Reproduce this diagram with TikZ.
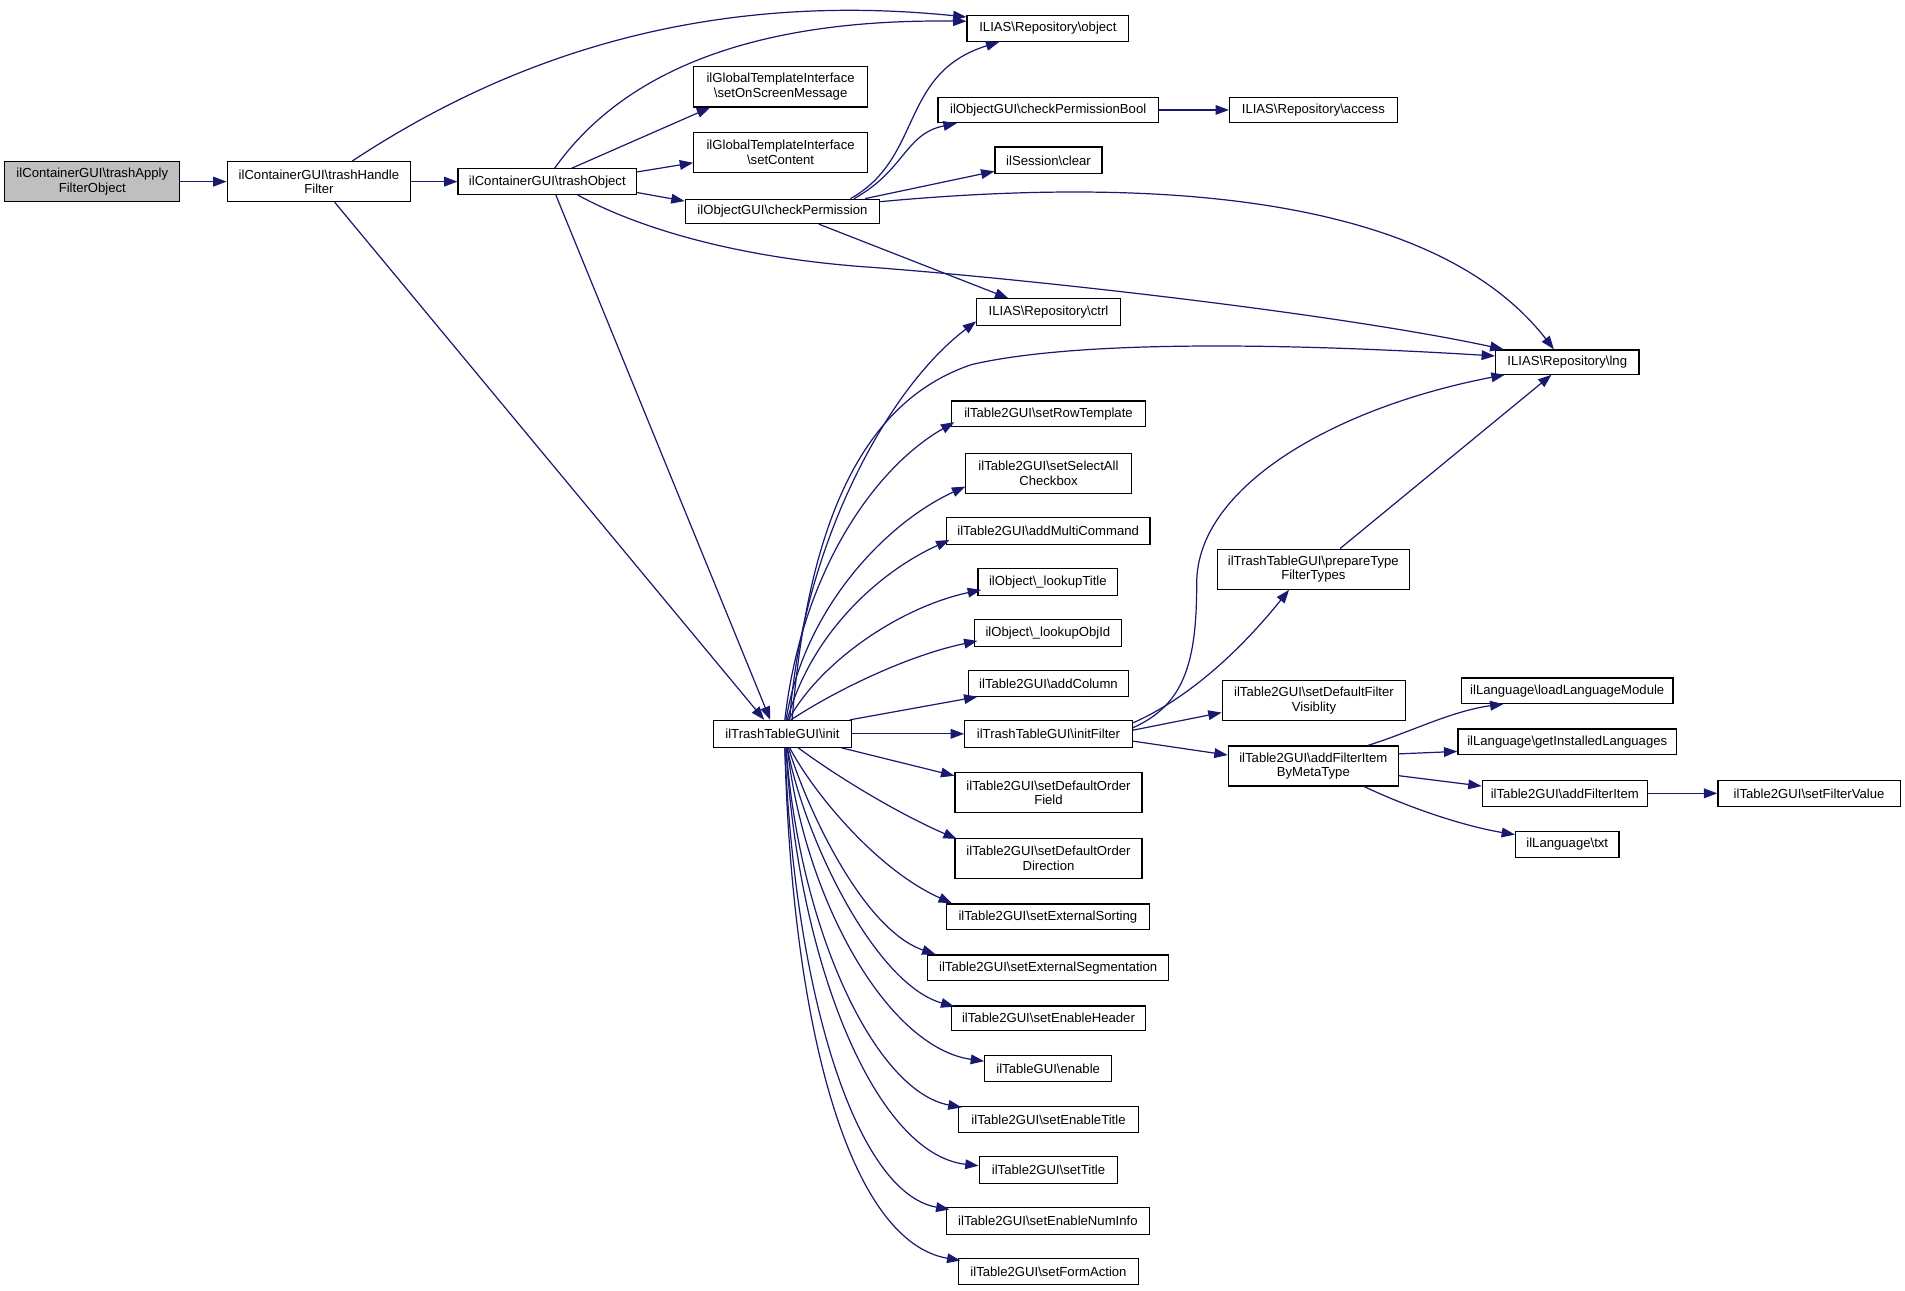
\documentclass[tikz,border=0pt]{standalone}
\usepackage{fontspec}
\setmainfont{Liberation Sans}
\usetikzlibrary{arrows.meta}
\definecolor{edgeblue}{RGB}{25,25,112}
\definecolor{nodegray}{RGB}{191,191,191}
\newcommand\bsl{\textbackslash}
\begin{document}
\begin{tikzpicture}[x=1pt,y=-1pt,
  nb/.style={draw=black, line width=1pt, fill=white, inner sep=0pt, align=center,
    font=\fontsize{10.8}{12}\selectfont},
  e/.style={draw=edgeblue, line width=1pt, -{Triangle[length=11pt,width=8pt]}},
]
\useasboundingbox (0,0) rectangle (1568,1062);

% ---------- nodes ----------
\node[nb, fill=nodegray, minimum width=144, minimum height=33] (A) at (76,149.5) {ilContainerGUI\bsl trashApply\\FilterObject};
\node[nb, minimum width=151, minimum height=33] (B) at (262.5,149.5) {ilContainerGUI\bsl trashHandle\\Filter};
\node[nb, minimum width=147, minimum height=21] (C) at (450.5,149.5) {ilContainerGUI\bsl trashObject};
\node[nb, minimum width=133, minimum height=21] (obj) at (862.5,23.5) {ILIAS\bsl Repository\bsl object};
\node[nb, minimum width=143, minimum height=33] (osm) at (642.5,71.5) {ilGlobalTemplateInterface\\\bsl setOnScreenMessage};
\node[nb, minimum width=143, minimum height=33] (cont) at (642.5,125.5) {ilGlobalTemplateInterface\\\bsl setContent};
\node[nb, minimum width=160, minimum height=20] (cp) at (644,174) {ilObjectGUI\bsl checkPermission};
\node[nb, minimum width=181.5, minimum height=21] (cpb) at (862.75,90.5) {ilObjectGUI\bsl checkPermissionBool};
\node[nb, minimum width=138, minimum height=21] (acc) at (1081,90.5) {ILIAS\bsl Repository\bsl access};
\node[nb, minimum width=88, minimum height=22] (clr) at (863,132) {ilSession\bsl clear};
\node[nb, minimum width=118, minimum height=22] (ctrl) at (863,257) {ILIAS\bsl Repository\bsl ctrl};
\node[nb, minimum width=118, minimum height=20] (lng) at (1290,298) {ILIAS\bsl Repository\bsl lng};
\node[nb, minimum width=160, minimum height=21] (srt) at (863,340.5) {ilTable2GUI\bsl setRowTemplate};
\node[nb, minimum width=136, minimum height=33] (ssa) at (863,389.5) {ilTable2GUI\bsl setSelectAll\\Checkbox};
\node[nb, minimum width=167.5, minimum height=22] (amc) at (862.75,437) {ilTable2GUI\bsl addMultiCommand};
\node[nb, minimum width=115, minimum height=22] (lt) at (862.5,479) {ilObject\bsl\_lookupTitle};
\node[nb, minimum width=121, minimum height=22] (lo) at (862.5,521) {ilObject\bsl\_lookupObjId};
\node[nb, minimum width=132, minimum height=21] (ac) at (863,562.5) {ilTable2GUI\bsl addColumn};
\node[nb, minimum width=114, minimum height=22] (init) at (644,604) {ilTrashTableGUI\bsl init};
\node[nb, minimum width=138, minimum height=22] (inf) at (863,604) {ilTrashTableGUI\bsl initFilter};
\node[nb, minimum width=154, minimum height=33] (sdof) at (863,652.5) {ilTable2GUI\bsl setDefaultOrder\\Field};
\node[nb, minimum width=154, minimum height=33] (sdod) at (863,706.5) {ilTable2GUI\bsl setDefaultOrder\\Direction};
\node[nb, minimum width=167, minimum height=21] (ses) at (862.5,754.5) {ilTable2GUI\bsl setExternalSorting};
\node[nb, minimum width=198.5, minimum height=21] (sesg) at (862.75,796.5) {ilTable2GUI\bsl setExternalSegmentation};
\node[nb, minimum width=160, minimum height=20] (seh) at (863,838) {ilTable2GUI\bsl setEnableHeader};
\node[nb, minimum width=104.5, minimum height=21] (en) at (862.75,879.5) {ilTableGUI\bsl enable};
\node[nb, minimum width=148, minimum height=21] (set) at (863,921.5) {ilTable2GUI\bsl setEnableTitle};
\node[nb, minimum width=114, minimum height=22] (st) at (863,963) {ilTable2GUI\bsl setTitle};
\node[nb, minimum width=167, minimum height=22] (seni) at (862.5,1005) {ilTable2GUI\bsl setEnableNumInfo};
\node[nb, minimum width=148, minimum height=21] (sfa) at (863,1046.5) {ilTable2GUI\bsl setFormAction};
\node[nb, minimum width=158, minimum height=33] (ptf) at (1081,468.5) {ilTrashTableGUI\bsl prepareType\\FilterTypes};
\node[nb, minimum width=151, minimum height=33] (sdfv) at (1081.5,576.5) {ilTable2GUI\bsl setDefaultFilter\\Visiblity};
\node[nb, minimum width=140, minimum height=33] (bmt) at (1081,630.5) {ilTable2GUI\bsl addFilterItem\\ByMetaType};
\node[nb, minimum width=174, minimum height=21] (llm) at (1290,568.5) {ilLanguage\bsl loadLanguageModule};
\node[nb, minimum width=180, minimum height=21] (gil) at (1290,610.5) {ilLanguage\bsl getInstalledLanguages};
\node[nb, minimum width=136, minimum height=21] (afi) at (1288,653) {ilTable2GUI\bsl addFilterItem};
\node[nb, minimum width=150, minimum height=21] (sfv) at (1489,653) {ilTable2GUI\bsl setFilterValue};
\node[nb, minimum width=85, minimum height=21] (txt) at (1290,695) {ilLanguage\bsl txt};

% ---------- edges ----------
\draw[e] (A.east) -- (B.west);
\draw[e] (B.east) -- (C.west);
\draw[e] ([xshift=27.5pt]B.north) .. controls (400,60) and (560,-10) .. ([yshift=-1.5pt]obj.north west);
\draw[e] ([xshift=13pt]B.south) -- ([xshift=-15pt]init.north);
\draw[e] ([xshift=6pt]C.north) .. controls (505,70) and (600,15) .. ([yshift=-5pt]obj.north west);
\draw[e] ([xshift=20pt]C.north) -- ([xshift=14pt]osm.south west);
\draw[e] ([yshift=8pt]C.east) -- ([yshift=-8.5pt]cont.west);
\draw[e] ([yshift=-9pt]C.east) -- ([yshift=-2pt]cp.north west);
\draw[e] ([xshift=7pt]C.south) -- ([xshift=-10pt]init.north);
\draw[e] ([xshift=25pt]C.south) .. controls (520,185) and (600,212) .. (717,220)
  .. controls (850,230) and (1100,258) .. ([xshift=7pt]lng.north west);

\draw[e] ([xshift=56pt]cp.north) .. controls (760,130) and (740,60) .. ([xshift=27pt]obj.south west);
\draw[e] ([xshift=59pt]cp.north) .. controls (745,140) and (745,110) .. ([xshift=16pt]cpb.south west);
\draw[e] ([xshift=68pt]cp.north) -- ([yshift=-9pt]clr.west);
\draw[e] ([yshift=8pt]cp.east) .. controls (950,145) and (1180,160) .. ([xshift=-11pt]lng.north);
\draw[e] ([xshift=30pt]cp.south) -- ([xshift=-33pt]ctrl.north);
\draw[e] (cpb.east) -- (acc.west);

% init upper fan
\draw[e] ([xshift=6pt]init.north) .. controls (660,450) and (730,320) .. ([yshift=4pt]ctrl.south west);
\draw[e] ([xshift=8pt]init.north) .. controls (665,430) and (710,330) .. (800,300)
  .. controls (900,277) and (1100,285) .. ([yshift=5pt]lng.west);
\draw[e] ([xshift=2pt]init.north) .. controls (660,470) and (720,385) .. ([xshift=3pt,yshift=4pt]srt.south west);
\draw[e] ([xshift=3pt]init.north) .. controls (662,500) and (730,430) .. ([yshift=6pt]ssa.south west);
\draw[e] ([xshift=4pt]init.north) .. controls (668,520) and (725,470) .. ([xshift=3pt,yshift=4pt]amc.south west);
\draw[e] ([xshift=5pt]init.north) .. controls (675,545) and (740,500) .. ([xshift=3pt,yshift=5pt]lt.south west);
\draw[e] ([xshift=7pt]init.north) .. controls (685,570) and (745,540) .. ([xshift=3pt,yshift=5pt]lo.south west);
\draw[e] ([xshift=-2pt]init.north east) -- ([xshift=8pt]ac.south west);
\draw[e] (init.east) -- (inf.west);

% init lower fan
\draw[e] ([xshift=-9pt]init.south east) -- ([yshift=-3pt]sdof.north west);
\draw[e] ([xshift=13pt]init.south) .. controls (690,640) and (740,670) .. ([xshift=2pt,yshift=-1pt]sdod.north west);
\draw[e] ([xshift=6pt]init.south) .. controls (668,650) and (720,715) .. ([xshift=5pt]ses.north west);
\draw[e] ([xshift=5pt]init.south) .. controls (664,665) and (710,765) .. ([xshift=7pt]sesg.north west);
\draw[e] ([xshift=4pt]init.south) .. controls (662,690) and (720,810) .. ([xshift=3pt,yshift=-1pt]seh.north west);
\draw[e] ([xshift=4pt]init.south) .. controls (662,740) and (730,862) .. ([yshift=-5pt]en.north west);
\draw[e] ([xshift=3pt]init.south) .. controls (658,765) and (720,898) .. ([xshift=3pt,yshift=-1pt]set.north west);
\draw[e] ([xshift=3pt]init.south) .. controls (656,790) and (720,950) .. ([yshift=-8pt]st.north west);
\draw[e] ([xshift=2pt]init.south) .. controls (654,820) and (705,982) .. ([xshift=3pt,yshift=-2pt]seni.north west);
\draw[e] ([xshift=2pt]init.south) .. controls (652,850) and (700,1022) .. ([xshift=2pt,yshift=-2pt]sfa.north west);

% initFilter
\draw[e] ([yshift=5pt]inf.east) .. controls (975,580) and (985,545) .. (985,480)
  .. controls (985,400) and (1100,335) .. ([xshift=8pt]lng.south west);
\draw[e] ([yshift=9pt]inf.east) .. controls (960,583) and (1005,555) .. ([xshift=-20pt]ptf.south);
\draw[e] ([yshift=3pt]inf.east) -- ([yshift=-10pt]sdfv.west);
\draw[e] ([yshift=-6pt]inf.east) -- ([yshift=-8pt]bmt.north west);
\draw[e] ([xshift=22pt]ptf.north) -- ([xshift=-13pt]lng.south);

% addFilterItemByMetaType
\draw[e] ([xshift=45pt]bmt.north) .. controls (1160,603) and (1195,585) .. ([xshift=35pt]llm.south west);
\draw[e] ([yshift=10pt]bmt.east) -- ([yshift=3pt]gil.south west);
\draw[e] ([yshift=-8pt]bmt.east) -- ([yshift=-5pt]afi.north west);
\draw[e] ([xshift=42pt]bmt.south) .. controls (1160,665) and (1205,680) .. ([yshift=-3pt]txt.north west);
\draw[e] (afi.east) -- (sfv.west);
\end{tikzpicture}
\end{document}
